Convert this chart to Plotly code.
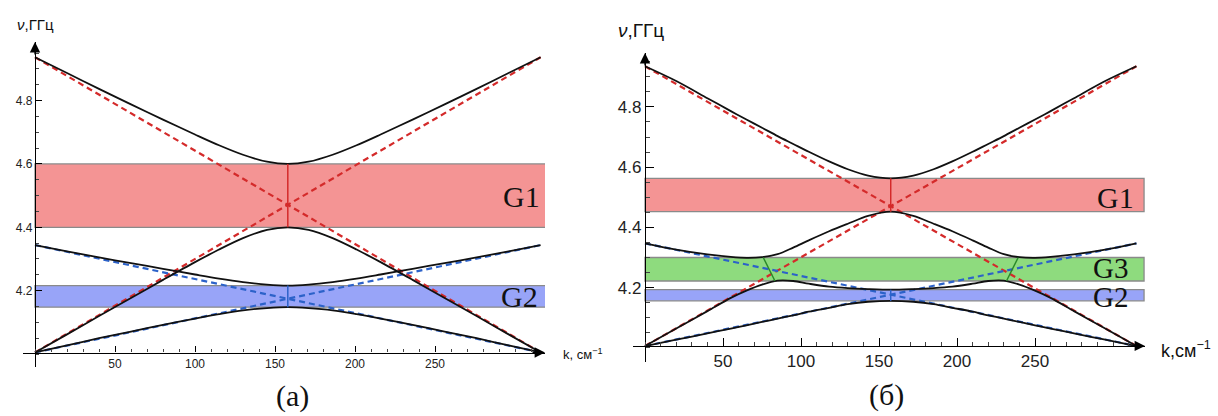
import plotly.graph_objects as go

# ---------------- data: panel (a) ----------------
K_A = [0, 20, 40, 60, 80, 100, 115, 130, 145, 158, 171, 186, 201, 216, 236, 256, 276, 296, 316]
A_BRANCH1 = [4.937, 4.887, 4.837, 4.788, 4.740, 4.693, 4.659, 4.629, 4.607, 4.60,
             4.607, 4.629, 4.659, 4.693, 4.740, 4.788, 4.837, 4.887, 4.937]
A_BRANCH2 = [4.005, 4.062, 4.12, 4.177, 4.234, 4.29, 4.33, 4.366, 4.392, 4.40,
             4.392, 4.366, 4.33, 4.29, 4.234, 4.177, 4.12, 4.062, 4.005]
A_BRANCH3 = [4.344, 4.324, 4.305, 4.287, 4.269, 4.251, 4.238, 4.227, 4.219, 4.216,
             4.219, 4.227, 4.238, 4.251, 4.269, 4.287, 4.305, 4.324, 4.344]
A_BRANCH4 = [4.005, 4.027, 4.05, 4.071, 4.092, 4.112, 4.126, 4.138, 4.145, 4.148,
             4.145, 4.138, 4.126, 4.112, 4.092, 4.071, 4.05, 4.027, 4.005]
A_K_ENDS = [0, 316]
A_RED_UP = [4.005, 4.937]
A_RED_DOWN = [4.937, 4.005]
A_BLUE_UP = [4.005, 4.344]
A_BLUE_DOWN = [4.344, 4.005]
A_KC = 158
A_G1 = [4.40, 4.60]
A_G2 = [4.148, 4.216]
A_KBAND = 319.4

# ---------------- data: panel (б) ----------------
K_B = [0, 20, 40, 55, 65, 75, 85, 95, 105, 118, 130, 143, 157.5, 172, 185, 197, 210, 220, 230, 240, 250, 260, 275, 295, 315]
B_BRANCH1 = [4.935, 4.886, 4.829, 4.786, 4.758, 4.731, 4.703, 4.677, 4.651, 4.619, 4.593, 4.572, 4.563,
             4.572, 4.593, 4.619, 4.651, 4.677, 4.703, 4.731, 4.758, 4.786, 4.829, 4.886, 4.935]
B_BRANCH2 = [4.347, 4.326, 4.31, 4.302, 4.299, 4.301, 4.311, 4.333, 4.357, 4.387, 4.412, 4.438, 4.452,
             4.438, 4.412, 4.387, 4.357, 4.333, 4.311, 4.301, 4.299, 4.302, 4.31, 4.326, 4.347]
B_BRANCH3 = [4.006, 4.064, 4.122, 4.166, 4.19, 4.21, 4.223, 4.222, 4.213, 4.203, 4.198, 4.195, 4.193,
             4.195, 4.198, 4.203, 4.213, 4.222, 4.223, 4.21, 4.19, 4.166, 4.122, 4.064, 4.006]
B_BRANCH4 = [4.006, 4.027, 4.048, 4.064, 4.075, 4.086, 4.097, 4.108, 4.12, 4.133, 4.145, 4.153, 4.156,
             4.153, 4.145, 4.133, 4.12, 4.108, 4.097, 4.086, 4.075, 4.064, 4.048, 4.027, 4.006]
B_K_ENDS = [0, 315]
B_RED_UP = [4.006, 4.935]
B_RED_DOWN = [4.935, 4.006]
B_BLUE_UP = [4.006, 4.347]
B_BLUE_DOWN = [4.347, 4.006]
B_KC = 157.5
B_G1 = [4.452, 4.563]
B_G3 = [4.222, 4.30]
B_G2 = [4.156, 4.193]
B_GREEN_L_K = [75.8, 83.3]
B_GREEN_R_K = [239.2, 231.7]
B_GREEN_NU = [4.30, 4.222]
B_KBAND = 319.9

X_TICKS = [50, 100, 150, 200, 250]
Y_TICKS = [4.2, 4.4, 4.6, 4.8]

W, H = 1218, 416
RED = "#d42a2a"
BLUE = "#2c62c9"
BLACK = "#111111"


def px(x):
    return x / W


def py(y):
    return (H - y) / H


fig = go.Figure()


def add_panel(xa, ya, kgrid, branches, kends, reds, blues, kc, vlines, greens):
    for r in reds:
        fig.add_trace(go.Scatter(x=kends, y=r, mode="lines", xaxis=xa, yaxis=ya,
                                 line=dict(color=RED, width=2.2, dash="6px,4px"), showlegend=False))
    for b in blues:
        fig.add_trace(go.Scatter(x=kends, y=b, mode="lines", xaxis=xa, yaxis=ya,
                                 line=dict(color=BLUE, width=2.2, dash="6px,4px"), showlegend=False))
    for br in branches:
        fig.add_trace(go.Scatter(x=kgrid, y=br, mode="lines", xaxis=xa, yaxis=ya,
                                 line=dict(color=BLACK, width=1.8, shape="spline", smoothing=0.9),
                                 showlegend=False))
    for (band, col) in vlines:
        fig.add_trace(go.Scatter(x=[kc, kc], y=band, mode="lines", xaxis=xa, yaxis=ya,
                                 line=dict(color=col, width=1.5), showlegend=False))
    for (gk, gnu) in greens:
        fig.add_trace(go.Scatter(x=gk, y=gnu, mode="lines", xaxis=xa, yaxis=ya,
                                 line=dict(color="#2a8a2a", width=1.5), showlegend=False))


add_panel("x", "y", K_A, [A_BRANCH1, A_BRANCH2, A_BRANCH3, A_BRANCH4], A_K_ENDS,
          [A_RED_UP, A_RED_DOWN], [A_BLUE_UP, A_BLUE_DOWN], A_KC,
          [(A_G1, RED), (A_G2, BLUE)], [])
add_panel("x2", "y2", K_B, [B_BRANCH1, B_BRANCH2, B_BRANCH3, B_BRANCH4], B_K_ENDS,
          [B_RED_UP, B_RED_DOWN], [B_BLUE_UP, B_BLUE_DOWN], B_KC,
          [(B_G1, RED), (B_G2, BLUE)], [(B_GREEN_L_K, B_GREEN_NU), (B_GREEN_R_K, B_GREEN_NU)])

shapes = []


def band(xr, yr, kmax, lim, col):
    shapes.append(dict(type="rect", xref=xr, yref=yr, x0=0, x1=kmax, y0=lim[0], y1=lim[1],
                       fillcolor=col, line=dict(color="#8a8a8a", width=1.3), layer="below"))


RED_FILL = "#f49494"
BLUE_FILL = "#98a4f8"
GREEN_FILL = "#8edb7e"
band("x", "y", A_KBAND, A_G1, RED_FILL)
band("x", "y", A_KBAND, A_G2, BLUE_FILL)
band("x2", "y2", B_KBAND, B_G1, RED_FILL)
band("x2", "y2", B_KBAND, B_G3, GREEN_FILL)
band("x2", "y2", B_KBAND, B_G2, BLUE_FILL)


def xaxis_cfg(dom, rng, pos, fs, tl):
    return dict(domain=dom, range=rng, anchor="free", position=pos, showline=True,
                linecolor="black", linewidth=1.2, showgrid=False, zeroline=False,
                tickmode="array", tickvals=X_TICKS, ticktext=[str(v) for v in X_TICKS],
                ticks="inside", ticklen=tl, tickwidth=1, tickcolor="black",
                tickfont=dict(family="Liberation Sans, Arial", size=fs, color="#222"),
                minor=dict(ticks="inside", ticklen=tl * 0.5, tickcolor="#444", dtick=10, tick0=0,
                           showgrid=False))


def yaxis_cfg(dom, rng, pos, fs, tl):
    return dict(domain=dom, range=rng, anchor="free", position=pos, showline=True,
                linecolor="black", linewidth=1.2, showgrid=False, zeroline=False,
                tickmode="array", tickvals=Y_TICKS, ticktext=[f"{v:.1f}" for v in Y_TICKS],
                ticks="inside", ticklen=tl, tickwidth=1, tickcolor="black",
                tickfont=dict(family="Liberation Sans, Arial", size=fs, color="#222"),
                minor=dict(ticks="inside", ticklen=tl * 0.5, tickcolor="#444", dtick=0.05, tick0=4.0,
                           showgrid=False))


layout = dict(
    width=W, height=H, margin=dict(l=0, r=0, t=0, b=0),
    paper_bgcolor="white", plot_bgcolor="white",
    xaxis=xaxis_cfg([px(23), px(545)], [-7.5, 318.75], py(352.5), 12, 6),
    yaxis=yaxis_cfg([py(367), py(42)], [3.959, 4.985], px(35), 12, 6),
    xaxis2=xaxis_cfg([px(633), px(1145)], [-7.7, 320.5], py(345.9), 17, 8),
    yaxis2=yaxis_cfg([py(362), py(53)], [3.953, 4.979], px(645), 17, 8),
    shapes=shapes,
)
fig.update_layout(**layout)

ann = []


def arrow(xt, yt, ax, ay):
    ann.append(dict(xref="paper", yref="paper", x=px(xt), y=py(yt), ax=ax, ay=ay, text="",
                    showarrow=True, arrowhead=2, arrowsize=1.6, arrowwidth=1.3, arrowcolor="black"))


arrow(545, 352.5, -14, 0)
arrow(35, 42, 0, 14)
arrow(1145, 345.9, -14, 0)
arrow(645, 53, 0, 14)


def label(x, y, text, size, family="Liberation Sans, Arial", xanchor="center", color="#111"):
    ann.append(dict(xref="paper", yref="paper", x=px(x), y=py(y), text=text, showarrow=False,
                    xanchor=xanchor, yanchor="middle",
                    font=dict(family=family, size=size, color=color)))


label(15, 24, "<i>ν</i>,ГГц", 15, xanchor="left")
label(616, 31, "<i>ν</i>,ГГц", 19, xanchor="left")
label(561, 354, "k, см<sup>−1</sup>", 13, xanchor="left")
label(1159, 349, "k,см<sup>−1</sup>", 18, xanchor="left")
SERIF = "Liberation Serif, Times New Roman"
label(292, 396, "(a)", 30, SERIF)
label(886, 395, "(б)", 30, SERIF)
label(521, 196, "G1", 30, SERIF)
label(519, 296, "G2", 30, SERIF)
label(1115, 197, "G1", 30, SERIF)
label(1110, 268, "G3", 29, SERIF)
label(1110, 297, "G2", 29, SERIF)

fig.update_layout(annotations=ann)
fig.write_html("out.html", config={"displayModeBar": False},
               post_script="document.body.style.margin='0px';document.body.style.overflow='hidden';")
